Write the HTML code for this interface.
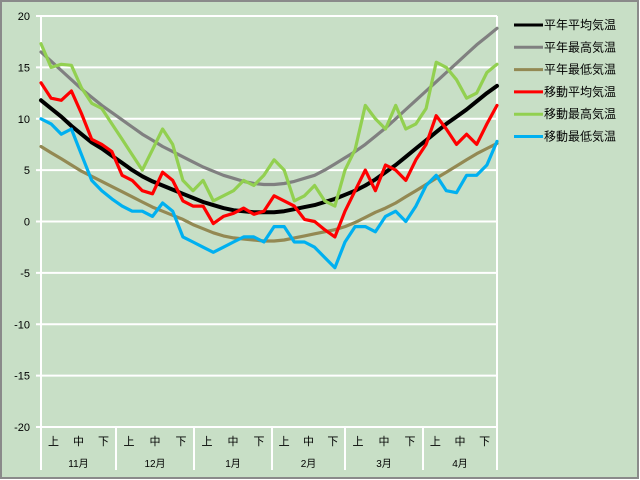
<!DOCTYPE html>
<html><head><meta charset="utf-8"><style>
body{margin:0;background:#fff}
svg{display:block;font-family:"Liberation Sans","Noto Sans CJK JP",sans-serif}
</style></head><body>
<svg id="c" width="640" height="480">
<rect x="1" y="1" width="637" height="477" fill="#c8dfc6" stroke="#8a8a8a" stroke-width="2"/>
<g id="axes"></g><g id="series"></g><g id="legend"></g>
</svg>
<script>
const yTicks=[20,15,10,5,0,-5,-10,-15,-20];
const months=["11月","12月","1月","2月","3月","4月"];
const thirds=["上","中","下"];
const seriesNames=["平年平均気温","平年最高気温","平年最低気温","移動平均気温","移動最高気温","移動最低気温"];
const seriesColors=["#000000","#808080","#938953","#ff0000","#92d050","#00b0f0"];
const normAvg=[11.8,11.0,10.2,9.3,8.5,7.7,7.1,6.4,5.7,5.0,4.4,3.9,3.5,3.1,2.7,2.3,1.9,1.6,1.3,1.1,1.0,0.9,0.9,0.9,1.0,1.2,1.4,1.6,1.9,2.2,2.6,3.0,3.5,4.1,4.8,5.5,6.3,7.1,7.9,8.7,9.5,10.2,10.9,11.7,12.5,13.2];
const normMax=[16.5,15.6,14.7,13.8,12.9,12.1,11.3,10.6,9.9,9.2,8.5,7.9,7.3,6.8,6.3,5.8,5.3,4.9,4.5,4.2,3.9,3.7,3.6,3.6,3.7,3.9,4.2,4.5,5.0,5.6,6.2,6.8,7.5,8.3,9.1,10.0,10.9,11.8,12.7,13.6,14.5,15.4,16.3,17.2,18.0,18.8];
const normMin=[7.3,6.7,6.1,5.5,4.9,4.4,3.9,3.4,2.9,2.4,1.9,1.4,1.0,0.6,0.2,-0.3,-0.7,-1.1,-1.4,-1.6,-1.7,-1.8,-1.9,-1.9,-1.8,-1.6,-1.4,-1.2,-1.0,-0.8,-0.5,-0.1,0.4,0.9,1.3,1.8,2.4,3.0,3.6,4.2,4.8,5.4,6.0,6.6,7.1,7.6];
const movAvg=[13.5,12.0,11.8,12.7,10.5,8.0,7.5,6.8,4.5,4.0,3.0,2.7,4.8,4.0,2.0,1.5,1.5,-0.2,0.5,0.8,1.3,0.7,1.0,2.5,2.0,1.5,0.2,0.0,-0.8,-1.5,1.0,3.0,5.0,3.0,5.5,5.0,4.0,6.0,7.5,10.3,9.0,7.5,8.5,7.5,9.5,11.3];
const movMax=[17.3,15.0,15.3,15.2,13.0,11.5,11.0,9.5,8.0,6.5,5.0,7.0,9.0,7.5,4.0,3.0,4.0,2.0,2.5,3.0,4.0,3.5,4.5,6.0,5.0,2.0,2.5,3.5,2.0,1.5,5.0,7.0,11.3,10.0,9.0,11.3,9.0,9.5,11.0,15.5,15.0,13.8,12.0,12.5,14.5,15.3];
const movMin=[10.0,9.5,8.5,9.0,6.5,4.0,3.0,2.2,1.5,1.0,1.0,0.5,1.8,1.0,-1.5,-2.0,-2.5,-3.0,-2.5,-2.0,-1.5,-1.5,-2.0,-0.5,-0.5,-2.0,-2.0,-2.5,-3.5,-4.5,-2.0,-0.5,-0.5,-1.0,0.5,1.0,0.0,1.5,3.5,4.5,3.0,2.8,4.5,4.5,5.5,7.8];
const allSeries=[normAvg,normMax,normMin,movAvg,movMax,movMin];
const NS="http://www.w3.org/2000/svg";
const X0=41,X1=497,Y0=16,Y1=427;
const yS=v=>Y1-(v+20)/40*(Y1-Y0);
const xS=(i,n)=>X0+i*(X1-X0)/(n-1);
const monthEdges=[41,116,194,272,345,423,497];
function mk(tag,attrs,parent){const e=document.createElementNS(NS,tag);for(const k in attrs)e.setAttribute(k,attrs[k]);parent.appendChild(e);return e;}
const ax=document.getElementById('axes');
yTicks.forEach(v=>{
  const y=yS(v);
  const g=mk('line',{x1:X0,y1:y,x2:X1,y2:y,stroke:'#fff','stroke-width':2},ax);
  
  
  const t=mk('line',{x1:X0-5,y1:y,x2:X0,y2:y,stroke:'#fff','stroke-width':2},ax);
  
  
  const l=mk('text',{x:30,y:y+4,'text-anchor':'end','font-size':11,fill:'#000'},ax);
  l.textContent=v;
  
  
});
let e=mk('line',{x1:X0,y1:Y0,x2:X0,y2:470,stroke:'#fff','stroke-width':2},ax);


monthEdges.forEach((x,k)=>{
  if(k>0){const s=mk('line',{x1:x,y1:k==6?Y0:Y1,x2:x,y2:470,stroke:'#fff','stroke-width':2},ax);
  
  }
});
months.forEach((m,k)=>{
  const a=monthEdges[k],b=monthEdges[k+1],w=(b-a)/3;
  thirds.forEach((t,j)=>{
    const tx=mk('text',{x:a+w*(j+0.5),y:445,'text-anchor':'middle','font-size':11,fill:'#000'},ax);
    tx.textContent=t;
    
    
  });
  const ml=mk('text',{x:(a+b)/2,y:467,'text-anchor':'middle','font-size':10,fill:'#000'},ax);
  ml.textContent=m;
  
  
});
const sg=document.getElementById('series');
allSeries.forEach((d,s)=>{
  const pts=d.map((v,i)=>xS(i,d.length).toFixed(1)+','+yS(v).toFixed(1)).join(' ');
  const p=mk('polyline',{points:pts,fill:'none',stroke:seriesColors[s],'stroke-width':s==0?4:3.2,'stroke-linejoin':'round','stroke-linecap':'round'},sg);
  
  
});
const lg=document.getElementById('legend');
seriesNames.forEach((n,s)=>{
  const y=25+s*22.3;
  const g=mk('g',{},lg);
  
  
  mk('line',{x1:514,y1:y,x2:543,y2:y,stroke:seriesColors[s],'stroke-width':3},g);
  const t=mk('text',{x:544,y:y+4,'font-size':12,fill:'#000'},g);
  t.textContent=n;
});
</script>
</body></html>
